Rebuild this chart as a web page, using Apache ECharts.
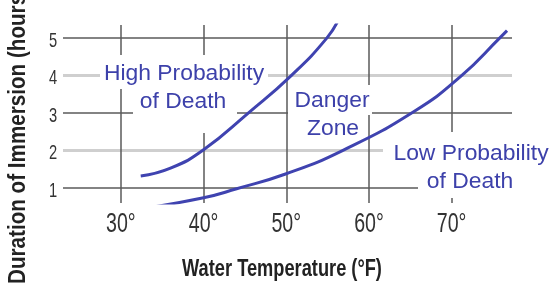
<!DOCTYPE html>
<html>
<head>
<meta charset="utf-8">
<script src="https://cdn.jsdelivr.net/npm/echarts@6/dist/echarts.min.js"></script>
<style>
  html, body { margin: 0; padding: 0; background: #fff; }
  #chart { width: 554px; height: 285px; }
</style>
</head>
<body>
<div id="chart"></div>
<script>
// values
const tempTicks = [30, 40, 50, 60, 70];
const hourTicks = [1, 2, 3, 4, 5];
const darkHours = [1, 3, 5];
const lightHours = [2, 4];

// upper curve: high probability of death / danger zone boundary
const highTemp = [32.4, 36, 40, 45.4, 50.6, 54.9, 56.4];
const highHours = [1.32, 1.53, 2.02, 3.0, 4.0, 5.0, 5.53];

// lower curve: danger zone / low probability boundary
const lowTemp = [32.6, 40, 44, 50, 56.8, 65.5, 71.2, 75.8, 76.7];
const lowHours = [0.45, 0.74, 0.98, 1.38, 2.0, 3.05, 4.0, 5.0, 5.2];

const xMin = 23, xMax = 77.3;
const yMin = 0.6, yMax = 5.35;

const blue = '#3d41aa';
const curveColor = '#3f43b0';
const ink = '#333';

const chart = echarts.init(document.getElementById('chart'));

const toPairs = (xs, ys) => xs.map((x, i) => [x, ys[i]]);

const gridLines = [
  ...darkHours.map(h => ({ yAxis: h, lineStyle: { color: '#5a5a5a', width: 1.5, type: 'solid' } })),
  ...lightHours.map(h => ({ yAxis: h, lineStyle: { color: '#cfcfcf', width: 3, type: 'solid' } })),
  ...tempTicks.map(t => ({ xAxis: t, lineStyle: { color: '#5a5a5a', width: 1.5, type: 'solid' } }))
];

const option = {
  animation: false,
  grid: { left: 63, right: 42, top: 25, bottom: 82 },
  xAxis: {
    type: 'value',
    min: xMin,
    max: xMax,
    axisLine: { show: false },
    axisTick: { show: false },
    splitLine: { show: false },
    axisLabel: { show: false }
  },
  yAxis: {
    type: 'value',
    min: yMin,
    max: yMax,
    axisLine: { show: false },
    axisTick: { show: false },
    splitLine: { show: false },
    axisLabel: { show: false }
  },
  series: [
    {
      type: 'line',
      z: 0,
      data: [],
      silent: true,
      markLine: {
        silent: true,
        symbol: 'none',
        label: { show: false },
        animation: false,
        data: gridLines
      }
    },
    {
      name: 'High',
      type: 'line',
      z: 100,
      smooth: 0.5,
      showSymbol: false,
      data: toPairs(highTemp, highHours),
      lineStyle: { color: curveColor, width: 3 },
      itemStyle: { color: curveColor }
    },
    {
      name: 'Low',
      type: 'line',
      z: 100,
      smooth: 0.5,
      showSymbol: false,
      data: toPairs(lowTemp, lowHours),
      lineStyle: { color: curveColor, width: 3 },
      itemStyle: { color: curveColor }
    }
  ]
};

chart.setOption(option);

// narrow lettering: scaled text placed through the axis scales
const narrowText = (text, x, y, size, sx, weight) => ({
  type: 'text',
  z: 50,
  x: x,
  y: y,
  scaleX: sx,
  style: {
    text: text,
    fill: weight ? '#222' : ink,
    font: (weight || '') + ' ' + size + 'px "Liberation Sans", Arial, sans-serif',
    align: 'center',
    verticalAlign: 'middle'
  }
});

const zoneLabel = (text, x, y) => ({
  type: 'text',
  z: 50,
  x: x,
  y: y,
  scaleX: 1.04,
  style: {
    text: text,
    fill: blue,
    font: '22px "Liberation Sans", Arial, sans-serif',
    align: 'center',
    verticalAlign: 'middle'
  }
});

// white patches behind the zone labels, hiding the grid lines
const patch = (x, y, w, h) => ({
  type: 'rect',
  z: 40,
  shape: { x: x, y: y, width: w, height: h },
  style: { fill: '#fff' }
});

const xOf = v => chart.convertToPixel({ xAxisIndex: 0 }, v);
const yOf = v => chart.convertToPixel({ yAxisIndex: 0 }, v);
const plotBottom = yOf(yMin);

const graphics = [];
tempTicks.forEach(t => {
  graphics.push(narrowText(t + '°', xOf(t), plotBottom + 21, 28, 0.7));
});
hourTicks.forEach(h => {
  graphics.push(narrowText(String(h), 53, yOf(h) + 3, 21, 0.7));
});
graphics.push(narrowText('Water Temperature (°F)', 282, 269, 24, 0.76, 'bold'));
graphics.push({
  type: 'text',
  z: 50,
  x: 18,
  y: 284,
  rotation: Math.PI / 2,
  scaleX: 0.86,
  style: {
    text: 'Duration of Immersion (hours)',
    fill: '#222',
    font: 'bold 24px "Liberation Sans", Arial, sans-serif',
    align: 'left',
    verticalAlign: 'middle'
  }
});
graphics.push(
  patch(100, 55, 168, 34),
  patch(133, 89, 104, 44),
  patch(288, 85, 84, 30),
  patch(300, 115, 66, 23),
  patch(383, 132, 171, 38),
  patch(418, 170, 106, 28),
  zoneLabel('High Probability', 184, 74),
  zoneLabel('of Death', 183, 102),
  zoneLabel('Danger', 332, 101),
  zoneLabel('Zone', 333, 129),
  zoneLabel('Low Probability', 471, 154),
  zoneLabel('of Death', 470, 182)
);

chart.setOption({ graphic: graphics });
</script>
</body>
</html>
